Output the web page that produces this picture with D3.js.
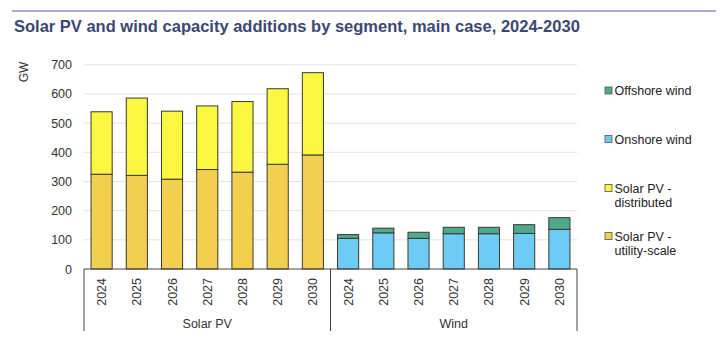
<!DOCTYPE html>
<html>
<head>
<meta charset="utf-8">
<script src="https://cdn.jsdelivr.net/npm/d3@7"></script>
<style>
  body { margin: 0; background: #fff; }
  svg text { font-family: "Liberation Sans", Arial, sans-serif; }
</style>
</head>
<body>
<div id="chart"></div>
<script>
// capacity additions, GW
var years = ['2024', '2025', '2026', '2027', '2028', '2029', '2030'];
var groups = ['Solar PV', 'Wind'];
var solarUtility = [325, 321, 308, 341, 332, 359, 391];
var solarDistributed = [214, 265, 233, 218, 242, 259, 282];
var onshoreWind = [105, 124, 105, 121, 121, 122, 136];
var offshoreWind = [13, 16, 21, 22, 22, 30, 40];
var yTicks = [0, 100, 200, 300, 400, 500, 600, 700];

var seriesKeys = ['utility', 'distributed', 'onshore', 'offshore'];
var colors = {
  utility: '#f3cf4f',
  distributed: '#fbf63f',
  onshore: '#6dcbf6',
  offshore: '#4faa8d'
};
var legendItems = [
  { key: 'offshore', lines: ['Offshore wind'] },
  { key: 'onshore', lines: ['Onshore wind'] },
  { key: 'distributed', lines: ['Solar PV -', 'distributed'] },
  { key: 'utility', lines: ['Solar PV -', 'utility-scale'] }
];

// one row per bar, zero for series that don't apply to the group
var rows = [];
years.forEach(function (y, i) {
  rows.push({ id: 'Solar PV|' + y, group: 'Solar PV', year: y,
    utility: solarUtility[i], distributed: solarDistributed[i], onshore: 0, offshore: 0 });
});
years.forEach(function (y, i) {
  rows.push({ id: 'Wind|' + y, group: 'Wind', year: y,
    utility: 0, distributed: 0, onshore: onshoreWind[i], offshore: offshoreWind[i] });
});

var width = 722, height = 346;
var plotLeft = 84, plotRight = 577, plotTop = 64.8, plotBottom = 269;

var svg = d3.select('#chart').append('svg')
  .attr('width', width)
  .attr('height', height);

// header rule + title
svg.append('line')
  .attr('x1', 12).attr('x2', 716).attr('y1', 11).attr('y2', 11)
  .attr('stroke', '#8a8fbd').attr('stroke-width', 1.5);
svg.append('text')
  .attr('x', 14).attr('y', 32)
  .attr('font-size', 16.5).attr('font-weight', 'bold')
  .attr('fill', '#3b4774')
  .text('Solar PV and wind capacity additions by segment, main case, 2024-2030');

var x = d3.scaleBand()
  .domain(rows.map(function (d) { return d.id; }))
  .range([plotLeft, plotRight])
  .paddingInner(0.4)
  .paddingOuter(0.2);

var y = d3.scaleLinear()
  .domain([0, 700])
  .range([plotBottom, plotTop]);

// gridlines
svg.append('g')
  .selectAll('line')
  .data(yTicks.slice(1))
  .enter().append('line')
  .attr('x1', plotLeft).attr('x2', plotRight)
  .attr('y1', function (d) { return y(d); })
  .attr('y2', function (d) { return y(d); })
  .attr('stroke', '#e3e3e3').attr('stroke-width', 1);

var yAxis = svg.append('g')
  .attr('transform', 'translate(' + plotLeft + ',0)')
  .call(d3.axisLeft(y).tickValues(yTicks).tickSize(0).tickPadding(12));
yAxis.select('.domain').remove();
yAxis.selectAll('text')
  .attr('font-size', 12.5)
  .attr('fill', '#333')
  .style('font-family', '"Liberation Sans", Arial, sans-serif');

svg.append('text')
  .attr('transform', 'translate(28,72) rotate(-90)')
  .attr('text-anchor', 'middle')
  .attr('font-size', 12)
  .attr('fill', '#333')
  .text('GW');

// stacked bars
var stacked = d3.stack().keys(seriesKeys)(rows);

svg.append('g')
  .selectAll('g')
  .data(stacked)
  .enter().append('g')
  .attr('fill', function (s) { return colors[s.key]; })
  .selectAll('rect')
  .data(function (s) { return s.filter(function (d) { return d[1] - d[0] > 0; }); })
  .enter().append('rect')
  .attr('x', function (d) { return x(d.data.id); })
  .attr('width', x.bandwidth())
  .attr('y', function (d) { return y(d[1]); })
  .attr('height', function (d) { return y(d[0]) - y(d[1]); })
  .attr('stroke', '#3a3a2e')
  .attr('stroke-width', 1);

// category axis: years rotated, groups underneath
var axisG = svg.append('g');
axisG.append('line')
  .attr('x1', plotLeft).attr('x2', plotRight).attr('y1', plotBottom).attr('y2', plotBottom)
  .attr('stroke', '#444').attr('stroke-width', 1);

var midEdge = (x('Solar PV|2030') + x.bandwidth() + x('Wind|2024')) / 2;
var groupEdges = [plotLeft, midEdge, plotRight];
axisG.selectAll('line.sep')
  .data(groupEdges)
  .enter().append('line')
  .attr('class', 'sep')
  .attr('x1', function (d) { return d; }).attr('x2', function (d) { return d; })
  .attr('y1', plotBottom).attr('y2', 331)
  .attr('stroke', '#444').attr('stroke-width', 1);

axisG.selectAll('text.year')
  .data(rows)
  .enter().append('text')
  .attr('class', 'year')
  .attr('transform', function (d) {
    return 'translate(' + (x(d.id) + x.bandwidth() / 2 + 4.5) + ',278) rotate(-90)';
  })
  .attr('text-anchor', 'end')
  .attr('font-size', 12.5)
  .attr('fill', '#333')
  .text(function (d) { return d.year; });

axisG.selectAll('text.group')
  .data(groups)
  .enter().append('text')
  .attr('class', 'group')
  .attr('x', function (g, i) { return (groupEdges[i] + groupEdges[i + 1]) / 2; })
  .attr('y', 328)
  .attr('text-anchor', 'middle')
  .attr('font-size', 12.5)
  .attr('fill', '#333')
  .text(function (g) { return g; });

// legend
var legendY = [90.5, 139, 188, 236];
var legend = svg.append('g').selectAll('g')
  .data(legendItems)
  .enter().append('g')
  .attr('transform', function (d, i) { return 'translate(605,' + legendY[i] + ')'; });

legend.append('rect')
  .attr('x', 0).attr('y', -3.5)
  .attr('width', 7).attr('height', 7)
  .attr('fill', function (d) { return colors[d.key]; })
  .attr('stroke', '#555').attr('stroke-width', 0.8);

legend.append('text')
  .attr('x', 9.5)
  .attr('y', 4.5)
  .attr('font-size', 12.5)
  .attr('fill', '#222')
  .selectAll('tspan')
  .data(function (d) { return d.lines; })
  .enter().append('tspan')
  .attr('x', 9.5)
  .attr('dy', function (l, i) { return i === 0 ? 0 : 14.3; })
  .text(function (l) { return l; });
</script>
</body>
</html>
